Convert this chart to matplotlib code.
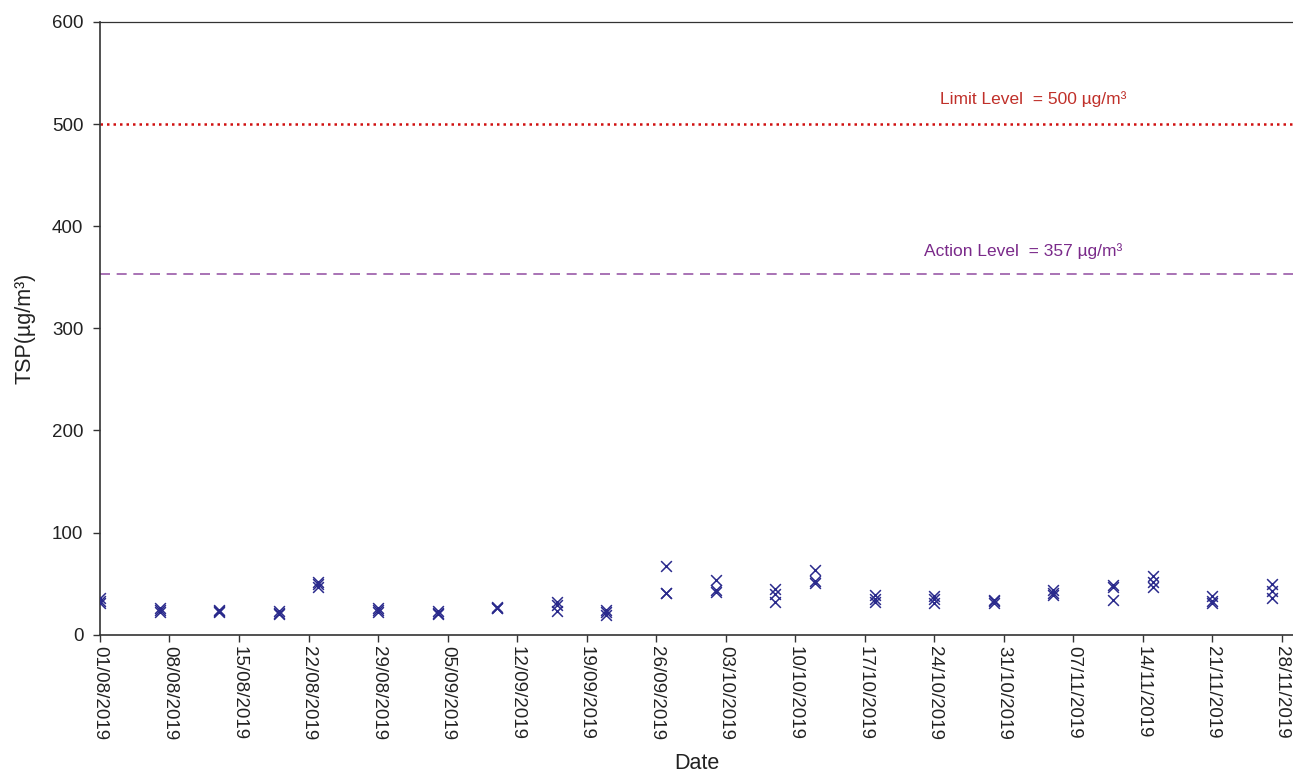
import matplotlib
import matplotlib.dates as mdates
import matplotlib.pyplot as plt
import pandas as pd

matplotlib.use("Agg")

plt.rcParams["font.family"] = ["Liberation Sans", "DejaVu Sans"]

# sampling dates and TSP readings (ug/m3)
sample_dates = [
    "2019-08-01", "2019-08-07", "2019-08-13", "2019-08-19", "2019-08-23",
    "2019-08-29", "2019-09-04", "2019-09-10", "2019-09-16", "2019-09-21",
    "2019-09-27", "2019-10-02", "2019-10-08", "2019-10-12", "2019-10-18",
    "2019-10-24", "2019-10-30", "2019-11-05", "2019-11-11", "2019-11-15",
    "2019-11-21", "2019-11-27",
]
reading_1 = [36, 26, 24, 23, 52, 26, 23, 26, 32, 24, 67, 54, 45, 63, 39, 38, 34, 44, 49, 57, 38, 50]
reading_2 = [31, 22, 22, 20, 47, 22, 20, 26, 23, 19, 41, 44, 32, 51, 32, 31, 31, 39, 34, 52, 31, 36]
reading_3 = [33, 24, 23, 21, 50, 24, 21, 27, 29, 22, 41, 42, 40, 53, 35, 35, 33, 41, 47, 47, 33, 43]

limit_level = 500
action_level = 353
x_start, x_end = "2019-08-01", "2019-11-29 03:00"
tick_dates = pd.date_range("2019-08-01", "2019-11-28", freq="7D")

dates = pd.to_datetime(sample_dates)

fig = plt.figure(figsize=(12.93, 7.74), dpi=100)
ax = fig.add_axes([0.0773, 0.180, 0.9227, 0.7916])

for vals in (reading_1, reading_2, reading_3):
    ax.scatter(dates, vals, marker="x", s=60, color="#2A2A8C", linewidths=1.1, zorder=3)

ax.axhline(limit_level, color="#D01010", linestyle=(0, (1, 1.6)), linewidth=1.8)
ax.axhline(action_level, color="#9A5AA8", linestyle=(0, (6, 4)), linewidth=1.2)

ax.text(pd.Timestamp("2019-11-03 00:00"), 525, "Limit Level  = 500 µg/m³",
        color="#C0302A", fontsize=12.5, ha="center", va="center")
ax.text(pd.Timestamp("2019-11-02 00:00"), 376, "Action Level  = 357 µg/m³",
        color="#7A2A8A", fontsize=12.5, ha="center", va="center")

ax.set_xlim(pd.Timestamp(x_start), pd.Timestamp(x_end))
ax.set_ylim(0, 600)
ax.set_yticks(range(0, 601, 100))
ax.set_xticks(tick_dates)
ax.xaxis.set_major_formatter(mdates.DateFormatter("%d/%m/%Y"))
plt.setp(ax.xaxis.get_majorticklabels(), rotation=270, ha="center", va="top")

ax.tick_params(axis="both", direction="out", length=5, width=1, color="#333333",
               labelsize=13.5, labelcolor="#222222")
ax.tick_params(axis="y", pad=7)
for side in ("left", "bottom", "top"):
    ax.spines[side].set_color("#333333")
    ax.spines[side].set_linewidth(1.2)
ax.spines["top"].set_linewidth(0.9)
ax.spines["right"].set_visible(False)

ax.set_ylabel("TSP(µg/m³)", fontsize=15.5, color="#222222", labelpad=12)
ax.set_xlabel("Date", fontsize=15.5, color="#222222", labelpad=9)

fig.savefig("out.png", dpi=100, facecolor="white")
